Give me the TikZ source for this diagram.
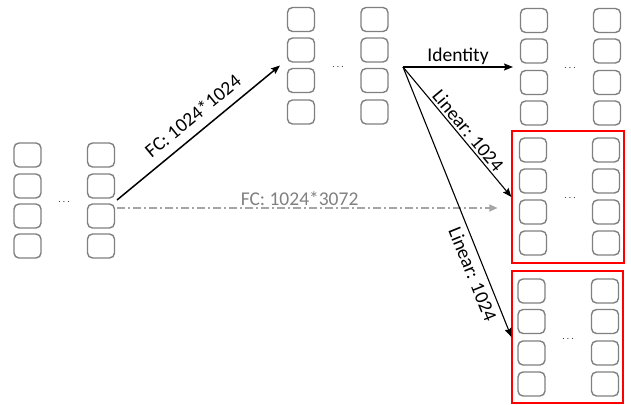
\documentclass[tikz,border=0pt]{standalone}
\usepackage{fontspec}
\setmainfont{Carlito}
\usetikzlibrary{arrows.meta}
\definecolor{cellgray}{RGB}{128,128,128}
\definecolor{skipgray}{RGB}{165,165,165}
\definecolor{skiptext}{RGB}{128,128,128}

\begin{document}
\begin{tikzpicture}[x=1pt,y=-1pt,
  cell/.style={draw=cellgray, line width=1.4pt, rounded corners=5pt,
    minimum width=27pt, minimum height=24pt, inner sep=0pt},
  grp/.style={inner sep=0pt, outer sep=0pt},
  redbox/.style={draw=red, line width=1.2pt, inner sep=0pt},
  lbl/.style={font=\fontsize{19.5}{21}\selectfont, inner sep=2pt},
  dots/.style={font=\fontsize{10}{10}\selectfont},
  flow/.style={-{Stealth[length=9pt,width=7pt,inset=1.5pt]}, line width=1.1pt},
  skipline/.style={-{Triangle[length=8pt,width=7pt]}, draw=skipgray, line width=1.1pt,
    dash pattern=on 8pt off 3pt on 2pt off 3pt}
]
\useasboundingbox (0,0) rectangle (631,404);

% group outlines (invisible) used as connector anchors
\node[grp, minimum width=102pt, minimum height=114pt] (L) at (64,200) {};
\node[grp, minimum width=101pt, minimum height=117pt] (M) at (337.5,65.5) {};
\node[grp, minimum width=100pt, minimum height=117pt] (T) at (571,66.5) {};
\node[redbox, minimum width=112pt, minimum height=132pt] (R1) at (568,197) {};
\node[redbox, minimum width=111pt, minimum height=132pt] (R2) at (567.5,337) {};

% input vectors
\foreach \c/\x in {1/27.5, 2/101}
  \foreach \r/\y in {1/155, 2/186, 3/216, 4/246}
    \node[cell] (L-\c-\r) at (\x,\y) {};
\node[dots] (L-dots) at (64,202) {$\cdots$};

% hidden vectors
\foreach \c/\x in {1/301, 2/374.5}
  \foreach \r/\y in {1/19.5, 2/50, 3/80.5, 4/112}
    \node[cell] (M-\c-\r) at (\x,\y) {};
\node[dots] (M-dots) at (338,67) {$\cdots$};

% identity branch
\foreach \c/\x in {1/534, 2/607}
  \foreach \r/\y in {1/20.5, 2/51, 3/82.5, 4/113}
    \node[cell] (T-\c-\r) at (\x,\y) {};
\node[dots] (T-dots) at (570,68) {$\cdots$};

% first linear branch
\foreach \c/\x in {1/533, 2/606}
  \foreach \r/\y in {1/150, 2/181, 3/212, 4/243}
    \node[cell] (A-\c-\r) at (\x,\y) {};
\node[dots] (A-dots) at (570,198) {$\cdots$};

% second linear branch
\foreach \c/\x in {1/531.5, 2/605}
  \foreach \r/\y in {1/291, 2/321.5, 3/353, 4/384}
    \node[cell] (B-\c-\r) at (\x,\y) {};
\node[dots] (B-dots) at (568,339) {$\cdots$};

% connectors
\coordinate (fan) at (403,67);
\draw[flow, line width=1.5pt] ([xshift=2pt]L.east) -- ([xshift=-7pt]M.west)
  node[pos=0.53, sloped, above=7pt, lbl] {FC: 1024*1024};
\draw[skipline] ([xshift=2pt,yshift=-8pt]L.east) -- ([xshift=-14pt,yshift=-11pt]R1.west)
  node[pos=0.48, above, lbl, text=skiptext] {FC: 1024*3072};
\draw[flow] (fan) -- ([xshift=-8pt]T.west |- fan)
  node[midway, above, lbl] {Identity};
\draw[flow] (fan) -- (R1.west)
  node[pos=0.535, sloped, above, lbl] {Linear: 1024};
\draw[flow] (fan) -- (R2.west)
  node[pos=0.75, sloped, below=3pt, lbl] {Linear: 1024};
\end{tikzpicture}
\end{document}
